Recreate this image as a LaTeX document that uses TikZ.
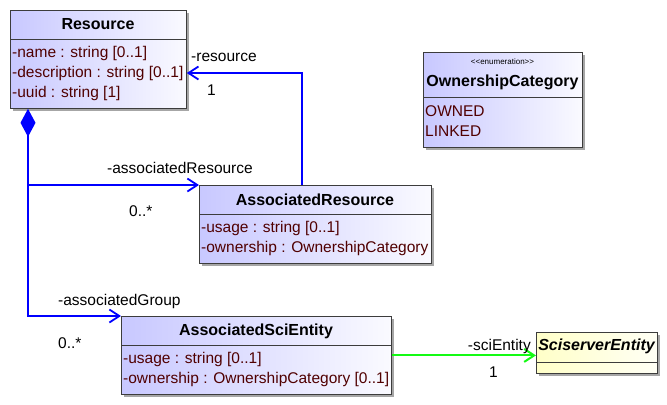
\documentclass[tikz,border=0pt]{standalone}
\usepackage{fontspec}
\setmainfont{Liberation Sans}
\usetikzlibrary{arrows.meta,shadows}
\definecolor{attrcol}{RGB}{80,0,0}
\definecolor{boxline}{RGB}{60,60,60}
\definecolor{clsleft}{RGB}{200,200,255}
\definecolor{clsright}{RGB}{250,250,255}
\definecolor{extleft}{RGB}{255,255,200}
\definecolor{extright}{RGB}{255,255,245}
\definecolor{assocblue}{RGB}{0,0,255}
\definecolor{assocgreen}{RGB}{20,250,20}

\begin{document}
\begin{tikzpicture}[x=1bp, y=-1bp]
      \tikzstyle{every node}=[font=\fontsize{15.5bp}{17bp}\selectfont, inner sep=0pt]
      \tikzstyle{classbox}=[draw=boxline, line width=0.8bp, anchor=north west, left color=clsleft, right color=clsright,
        drop shadow={shadow xshift=3bp, shadow yshift=-3bp, fill=black!35, opacity=1}]
      \tikzstyle{extbox}=[classbox, left color=extleft, right color=extright]
      \tikzstyle{title}=[font=\fontsize{16bp}{18bp}\selectfont\bfseries]
      \tikzstyle{attr}=[anchor=west, text=attrcol]
      \tikzstyle{assoc}=[color=assocblue, line width=1.8bp, -{Straight Barb[length=10bp,width=13bp]}]
      \tikzstyle{sciassoc}=[color=assocgreen, line width=2bp, -{Straight Barb[length=10bp,width=13bp]}]
      \tikzstyle{comp}=[color=assocblue, line width=1.8bp, -{Diamond[length=28bp,width=15bp,fill=assocblue]}]
      \useasboundingbox (0,0) rectangle (667,404);
      %%
  \node (res) at (10,10) [classbox, minimum width=176bp, minimum height=98bp] {};
  \draw [boxline] (res.north west |- 0,39) -- (res.north east |- 0,39);
  \node (res_t) at (98,24) [title] {Resource};
  \node (res_a1) at (12,53) [attr] {-name : string [0..1]};
  \node (res_a2) at (12,73) [attr] {-description : string [0..1]};
  \node (res_a3) at (12,93) [attr] {-uuid : string [1]};
  \node (own) at (423,52) [classbox, minimum width=159bp, minimum height=95bp] {};
  \draw [boxline] (own.north west |- 0,97) -- (own.north east |- 0,97);
  \node (own_s) at (502.5,62) [font=\fontsize{8bp}{9bp}\selectfont] {<{}<enumeration>{}>};
  \node (own_t) at (502.5,82) [title] {OwnershipCategory};
  \node (own_a1) at (425,111) [attr] {OWNED};
  \node (own_a2) at (425,131) [attr] {LINKED};
  \node (ares) at (199,185) [classbox, minimum width=232bp, minimum height=78bp] {};
  \draw [boxline] (ares.north west |- 0,214) -- (ares.north east |- 0,214);
  \node (ares_t) at (315,200) [title] {AssociatedResource};
  \node (ares_a1) at (201,228) [attr] {-usage : string [0..1]};
  \node (ares_a2) at (201,248) [attr] {-ownership : OwnershipCategory};
  \node (asci) at (121,316) [classbox, minimum width=270bp, minimum height=78bp] {};
  \draw [boxline] (asci.north west |- 0,345) -- (asci.north east |- 0,345);
  \node (asci_t) at (256,331) [title] {AssociatedSciEntity};
  \node (asci_a1) at (123,359) [attr] {-usage : string [0..1]};
  \node (asci_a2) at (123,379) [attr] {-ownership : OwnershipCategory [0..1]};
  \node (sse) at (536,332) [extbox, minimum width=121bp, minimum height=41bp] {};
  \draw [boxline] (sse.north west |- 0,362) -- (sse.north east |- 0,362);
  \node (sse_t) at (596.5,346) [title, font=\fontsize{16bp}{18bp}\selectfont\bfseries\itshape] {SciserverEntity};
  %%
  \coordinate (res_dia) at ([xshift=18bp]res.south west);
  \coordinate (dia_end) at ([yshift=-28bp]res_dia);
  \draw [comp] (dia_end) -- (res_dia);
  \draw [assoc] (dia_end) |- (ares.north west);
  \draw [assoc] (dia_end) |- (asci.north west);
  \draw [assoc] ([xshift=103bp]ares.north west) |- ([yshift=-63bp]res.north east);
  \draw [sciassoc] (asci.east) -- (asci.east -| sse.west);
  %%
  \node (l_res) at (191,57) [anchor=west] {-resource};
  \node (m_res) at (207,90) [anchor=west] {1};
  \node (l_ares) at (107,168) [anchor=west] {-associatedResource};
  \node (m_ares) at (129,211) [anchor=west] {0..*};
  \node (l_asci) at (58,301) [anchor=west] {-associatedGroup};
  \node (m_asci) at (58,343) [anchor=west] {0..*};
  \node (l_sse) at (531,346) [anchor=east] {-sciEntity};
  \node (m_sse) at (489,372) [anchor=west] {1};
%
    \end{tikzpicture}
\end{document}
